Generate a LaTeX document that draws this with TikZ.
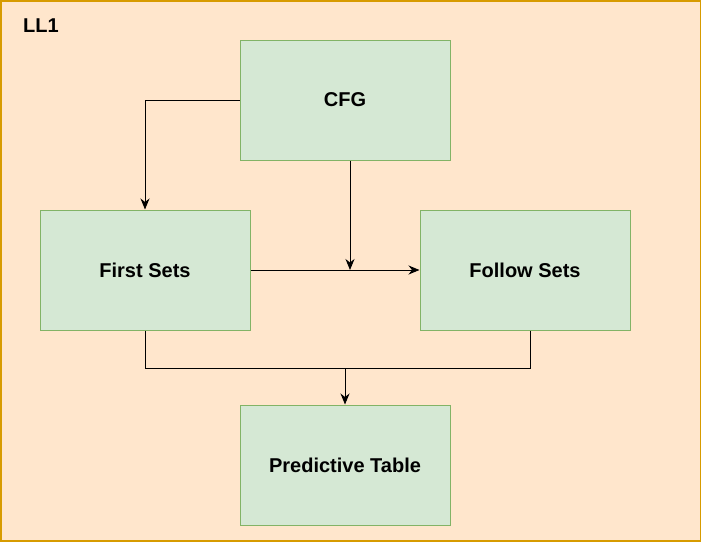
\documentclass[tikz,border=0pt]{standalone}
\usepackage{fontspec}
\setmainfont{Liberation Sans}
\usetikzlibrary{arrows.meta}
\definecolor{bgfill}{HTML}{FFE6CC}
\definecolor{bgline}{HTML}{D79B00}
\definecolor{boxfill}{HTML}{D5E8D4}
\definecolor{boxline}{HTML}{82B366}
\begin{document}
\begin{tikzpicture}[x=1pt,y=-1pt,
  box/.style={draw=boxline,fill=boxfill,line width=1pt,minimum width=210pt,minimum height=120pt,inner sep=0pt,
    font=\fontsize{20}{22}\selectfont\bfseries},
  conn/.style={line width=1pt,-{Stealth[length=11pt,width=9pt,inset=3.5pt]}},
  plain/.style={line width=1pt}]
\useasboundingbox (0,0) rectangle (701,541);
\fill[bgfill] (0,0) rectangle (701,541);
\draw[bgline,line width=2pt] (0.5,0.5) rectangle (700.5,540.5);
\node[anchor=west,inner sep=0pt,font=\fontsize{20}{22}\selectfont\bfseries] (title) at (23,26) {LL1};
\node[box] (cfg) at (345,100) {CFG};
\node[box] (first) at (145,270) {First Sets};
\node[box] (follow) at (525,270) {Follow Sets};
\node[box] (pred) at (345,465) {Predictive Table};
\coordinate (mid) at (350,270);
\coordinate (join) at (345,368);
\draw[conn] (cfg.west) -| (first.north);
\draw[conn] (cfg.south -| mid) -- (mid);
\draw[conn] (first.east) -- (follow.west);
\draw[plain] (first.south) |- (join);
\draw[plain] (follow.south -| 530,0) |- (join);
\draw[conn] (join) -- (pred.north);
\end{tikzpicture}
\end{document}
